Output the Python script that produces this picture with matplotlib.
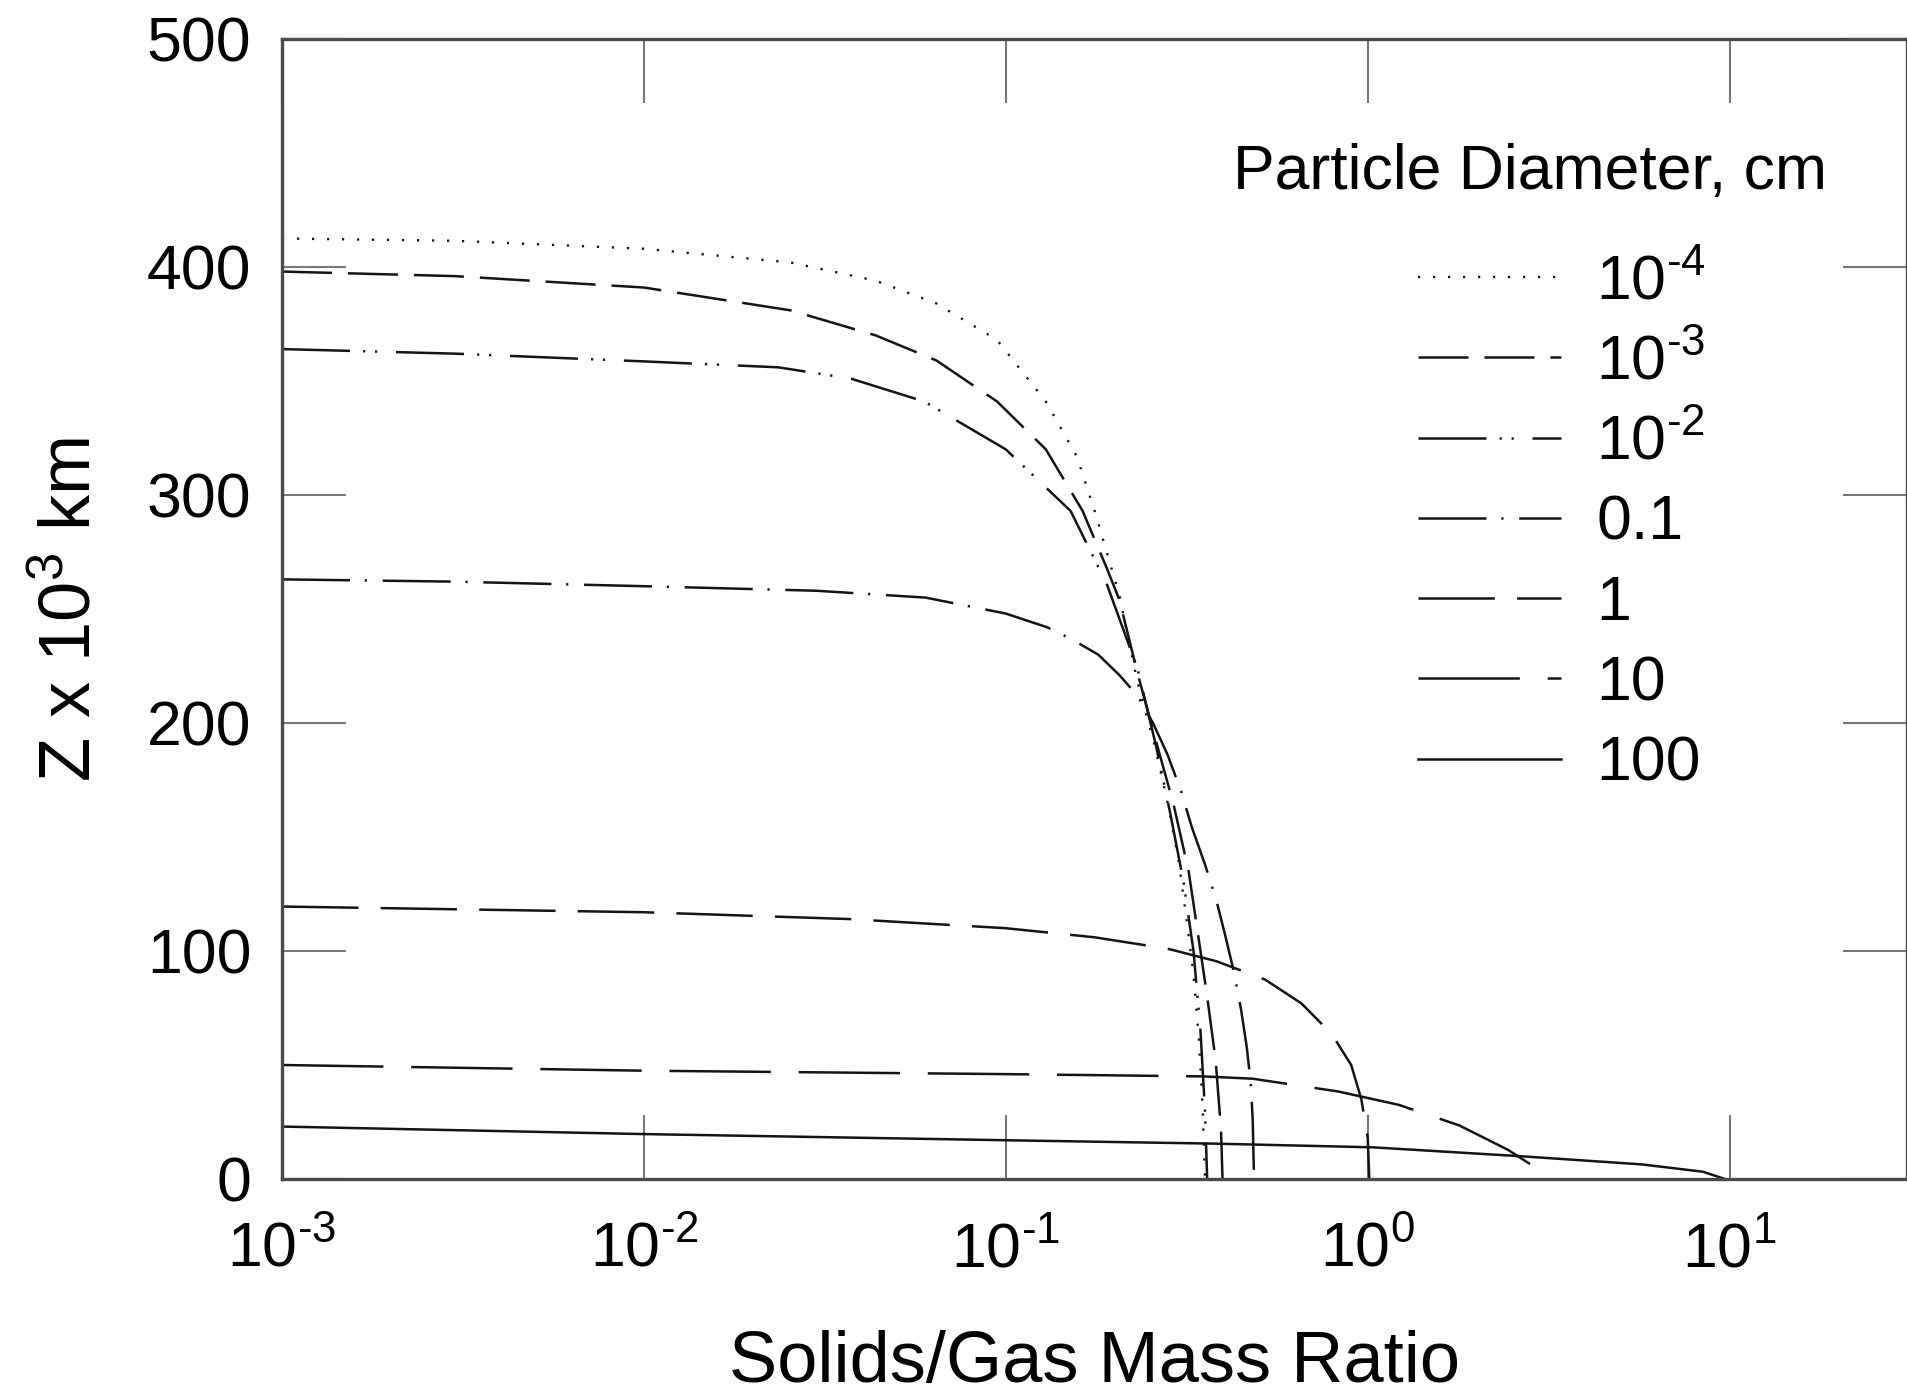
import numpy as np
import matplotlib
matplotlib.use("Agg")
import matplotlib.pyplot as plt
from matplotlib.ticker import LogLocator, NullLocator, MultipleLocator, FuncFormatter

plt.rcParams['font.family'] = ['Liberation Sans', 'DejaVu Sans']
plt.rcParams['mathtext.fontset'] = 'custom'
plt.rcParams['mathtext.rm'] = 'Liberation Sans'
plt.rcParams['mathtext.it'] = 'Liberation Sans'
plt.rcParams['mathtext.default'] = 'regular'
plt.rcParams['axes.unicode_minus'] = False
plt.rcParams['lines.scale_dashes'] = False

# solids/gas mass ratio vs height, one curve per particle diameter
labels = ['10$^{\\text{-4}}$', '10$^{\\text{-3}}$', '10$^{\\text{-2}}$', '0.1', '1', '10', '100']

x_1em4 = [0.001, 0.003, 0.01, 0.0254, 0.0437, 0.0643, 0.0946, 0.129, 0.157, 0.176,
          0.206, 0.231, 0.258, 0.28, 0.3, 0.315, 0.33, 0.342, 0.35, 0.355]
z_1em4 = [412.5, 411.5, 408, 402, 394, 384, 368, 341, 317, 293,
          256, 218, 190, 165, 140, 115, 90, 60, 30, 0]

x_1em3 = [0.001, 0.003, 0.01, 0.0254, 0.0437, 0.0643, 0.0946, 0.129, 0.163, 0.19,
          0.206, 0.231, 0.26, 0.29, 0.32, 0.345, 0.36, 0.38, 0.393, 0.397]
z_1em3 = [398, 396, 391, 381, 370, 359, 341, 320, 293, 268,
          254, 222, 192, 165, 135, 100, 80, 52, 22, 0]

x_1em2 = [0.001, 0.003, 0.01, 0.0235, 0.0374, 0.0595, 0.1, 0.151, 0.19, 0.231,
          0.26, 0.285, 0.31, 0.33, 0.345, 0.355, 0.36]
z_1em2 = [364, 362, 358.6, 356, 351, 341, 320, 293, 261, 224,
          190, 160, 130, 100, 65, 30, 0]

x_01 = [0.001, 0.003, 0.01, 0.03, 0.06, 0.1, 0.13, 0.151, 0.18, 0.206, 0.231, 0.255,
        0.28, 0.305, 0.327, 0.355, 0.382, 0.405, 0.428, 0.447, 0.463, 0.475, 0.481, 0.485]
z_01 = [263, 262, 260, 258, 255, 248, 242, 237, 230, 221, 212, 200,
        186, 170, 154, 138, 122, 106, 90, 74, 58, 42, 26, 0]

x_1 = [0.001, 0.01, 0.037, 0.1, 0.176, 0.28, 0.382, 0.52, 0.656, 0.796, 0.9, 0.96, 1.0, 1.01]
z_1 = [119.5, 117, 114, 110, 106, 101, 95.5, 87.5, 77, 63.5, 50, 35, 18, 0]

x_10 = [0.001, 0.01, 0.1, 0.35, 0.48, 0.828, 1.22, 1.79, 2.44, 2.85, 3.03]
z_10 = [50, 47.5, 46, 45, 44, 38.4, 32.5, 23.5, 12.8, 5.9, 0]

x_100 = [0.001, 0.01, 0.1, 0.38, 1.03, 2.64, 5.72, 8.43, 9.7]
z_100 = [23, 19.7, 17, 15.5, 13.9, 10, 6.4, 3.2, 0]

series_x = [x_1em4, x_1em3, x_1em2, x_01, x_1, x_10, x_100]
series_z = [z_1em4, z_1em3, z_1em2, z_01, z_1, z_10, z_100]

# dash patterns in points
styles = [(0, (1.6, 9.2)),
          (0, (36, 11.5)),
          (0, (49, 9.4, 1.6, 7.0, 1.6, 13.5)),
          (0, (49, 10.6, 1.6, 11.3)),
          (0, (55, 16)),
          (0, (73, 20)),
          '-']
widths = [1.7, 1.8, 1.8, 1.8, 1.8, 1.8, 1.8]

fig = plt.figure(figsize=(19.08, 13.98), dpi=100)
ax = fig.add_axes([282 / 1908, 219 / 1398, 1625 / 1908, 1140 / 1398])

for xs, zs, ls, lw, lab in zip(series_x, series_z, styles, widths, labels):
    ax.plot(xs, zs, color='#141414', linestyle=ls, linewidth=lw, label=lab)

ax.set_xscale('log')
ax.set_xlim(1e-3, 10 ** 1.49)
ax.set_ylim(0, 500)
ax.xaxis.set_major_locator(LogLocator(base=10, numticks=10))
ax.xaxis.set_minor_locator(NullLocator())
ax.xaxis.set_major_formatter(FuncFormatter(
    lambda v, pos: '10$^{\\text{%d}}$' % int(round(np.log10(v)))))
ax.yaxis.set_major_locator(MultipleLocator(100))

for s in ax.spines.values():
    s.set_color('#4a4a4a')
    s.set_linewidth(2.4)

ax.tick_params(which='major', direction='in', length=46, width=1.5, color='#777777',
               top=True, right=True, labelsize=45)
ax.tick_params(axis='x', pad=30)
ax.tick_params(axis='y', pad=22)

ax.set_xlabel('Solids/Gas Mass Ratio', fontsize=52, labelpad=36)
ax.set_ylabel('Z x 10$^3$ km', fontsize=52, labelpad=30)

fig.text(1233 / 1908, 1 - 189 / 1398, 'Particle Diameter, cm', fontsize=45,
         va='baseline', ha='left')

leg = ax.legend(loc='upper left', bbox_to_anchor=(1418 / 1908, 1 - 253 / 1398),
                bbox_transform=fig.transFigure, frameon=False, fontsize=45,
                handlelength=2.29, handletextpad=0.56, labelspacing=0.34,
                borderpad=0, borderaxespad=0)

fig.savefig('out.png', dpi=100, facecolor='white')
